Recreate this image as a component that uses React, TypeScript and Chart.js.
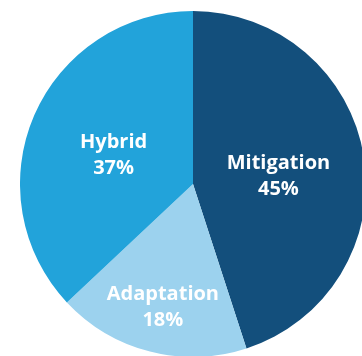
import React, { useEffect, useRef } from "react";
import { Chart, registerables, Plugin } from "chart.js";

Chart.register(...registerables);

const categories = ["Mitigation", "Adaptation", "Hybrid"];
const shares = [45, 18, 37];
const sliceColors = ["#134F7C", "#9CD2EE", "#22A3DA"];

// Where each label block sits along its slice's mid-angle, as a fraction of the radius
const labelRadius = [0.5, 0.7, 0.5];

const sliceLabels: Plugin<"pie"> = {
  id: "sliceLabels",
  afterDatasetsDraw(chart) {
    const ctx = chart.ctx;
    const meta = chart.getDatasetMeta(0);
    ctx.save();
    ctx.fillStyle = "#ffffff";
    ctx.font = "bold 20px 'Open Sans'";
    ctx.textAlign = "center";
    ctx.textBaseline = "middle";
    meta.data.forEach((el: any, i: number) => {
      const { x, y, startAngle, endAngle, outerRadius } = el.getProps(
        ["x", "y", "startAngle", "endAngle", "outerRadius"],
        true
      );
      const mid = (startAngle + endAngle) / 2;
      const r = outerRadius * labelRadius[i];
      const cx = x + Math.cos(mid) * r;
      const cy = y + Math.sin(mid) * r + 6;
      ctx.fillText(categories[i], cx, cy - 13);
      ctx.fillText(`${shares[i]}%`, cx, cy + 13);
    });
    ctx.restore();
  },
};

export default function App() {
  const canvasRef = useRef<HTMLCanvasElement | null>(null);

  useEffect(() => {
    if (!canvasRef.current) return;
    const chart = new Chart(canvasRef.current, {
      type: "pie",
      data: {
        labels: categories,
        datasets: [
          {
            data: shares,
            backgroundColor: sliceColors,
            borderWidth: 0,
            hoverOffset: 0,
          },
        ],
      },
      options: {
        animation: false,
        responsive: false,
        maintainAspectRatio: false,
        layout: { padding: 0 },
        plugins: {
          legend: { display: false },
          tooltip: { enabled: false },
        },
      },
      plugins: [sliceLabels],
    });
    return () => chart.destroy();
  }, []);

  return (
    <div
      style={{
        position: "fixed",
        left: 0,
        top: 0,
        width: 362,
        height: 356,
        overflow: "hidden",
        background: "#ffffff",
      }}
    >
      <canvas
        ref={canvasRef}
        width={346}
        height={346}
        style={{ position: "absolute", left: 20, top: 11, width: 346, height: 346 }}
      />
    </div>
  );
}
